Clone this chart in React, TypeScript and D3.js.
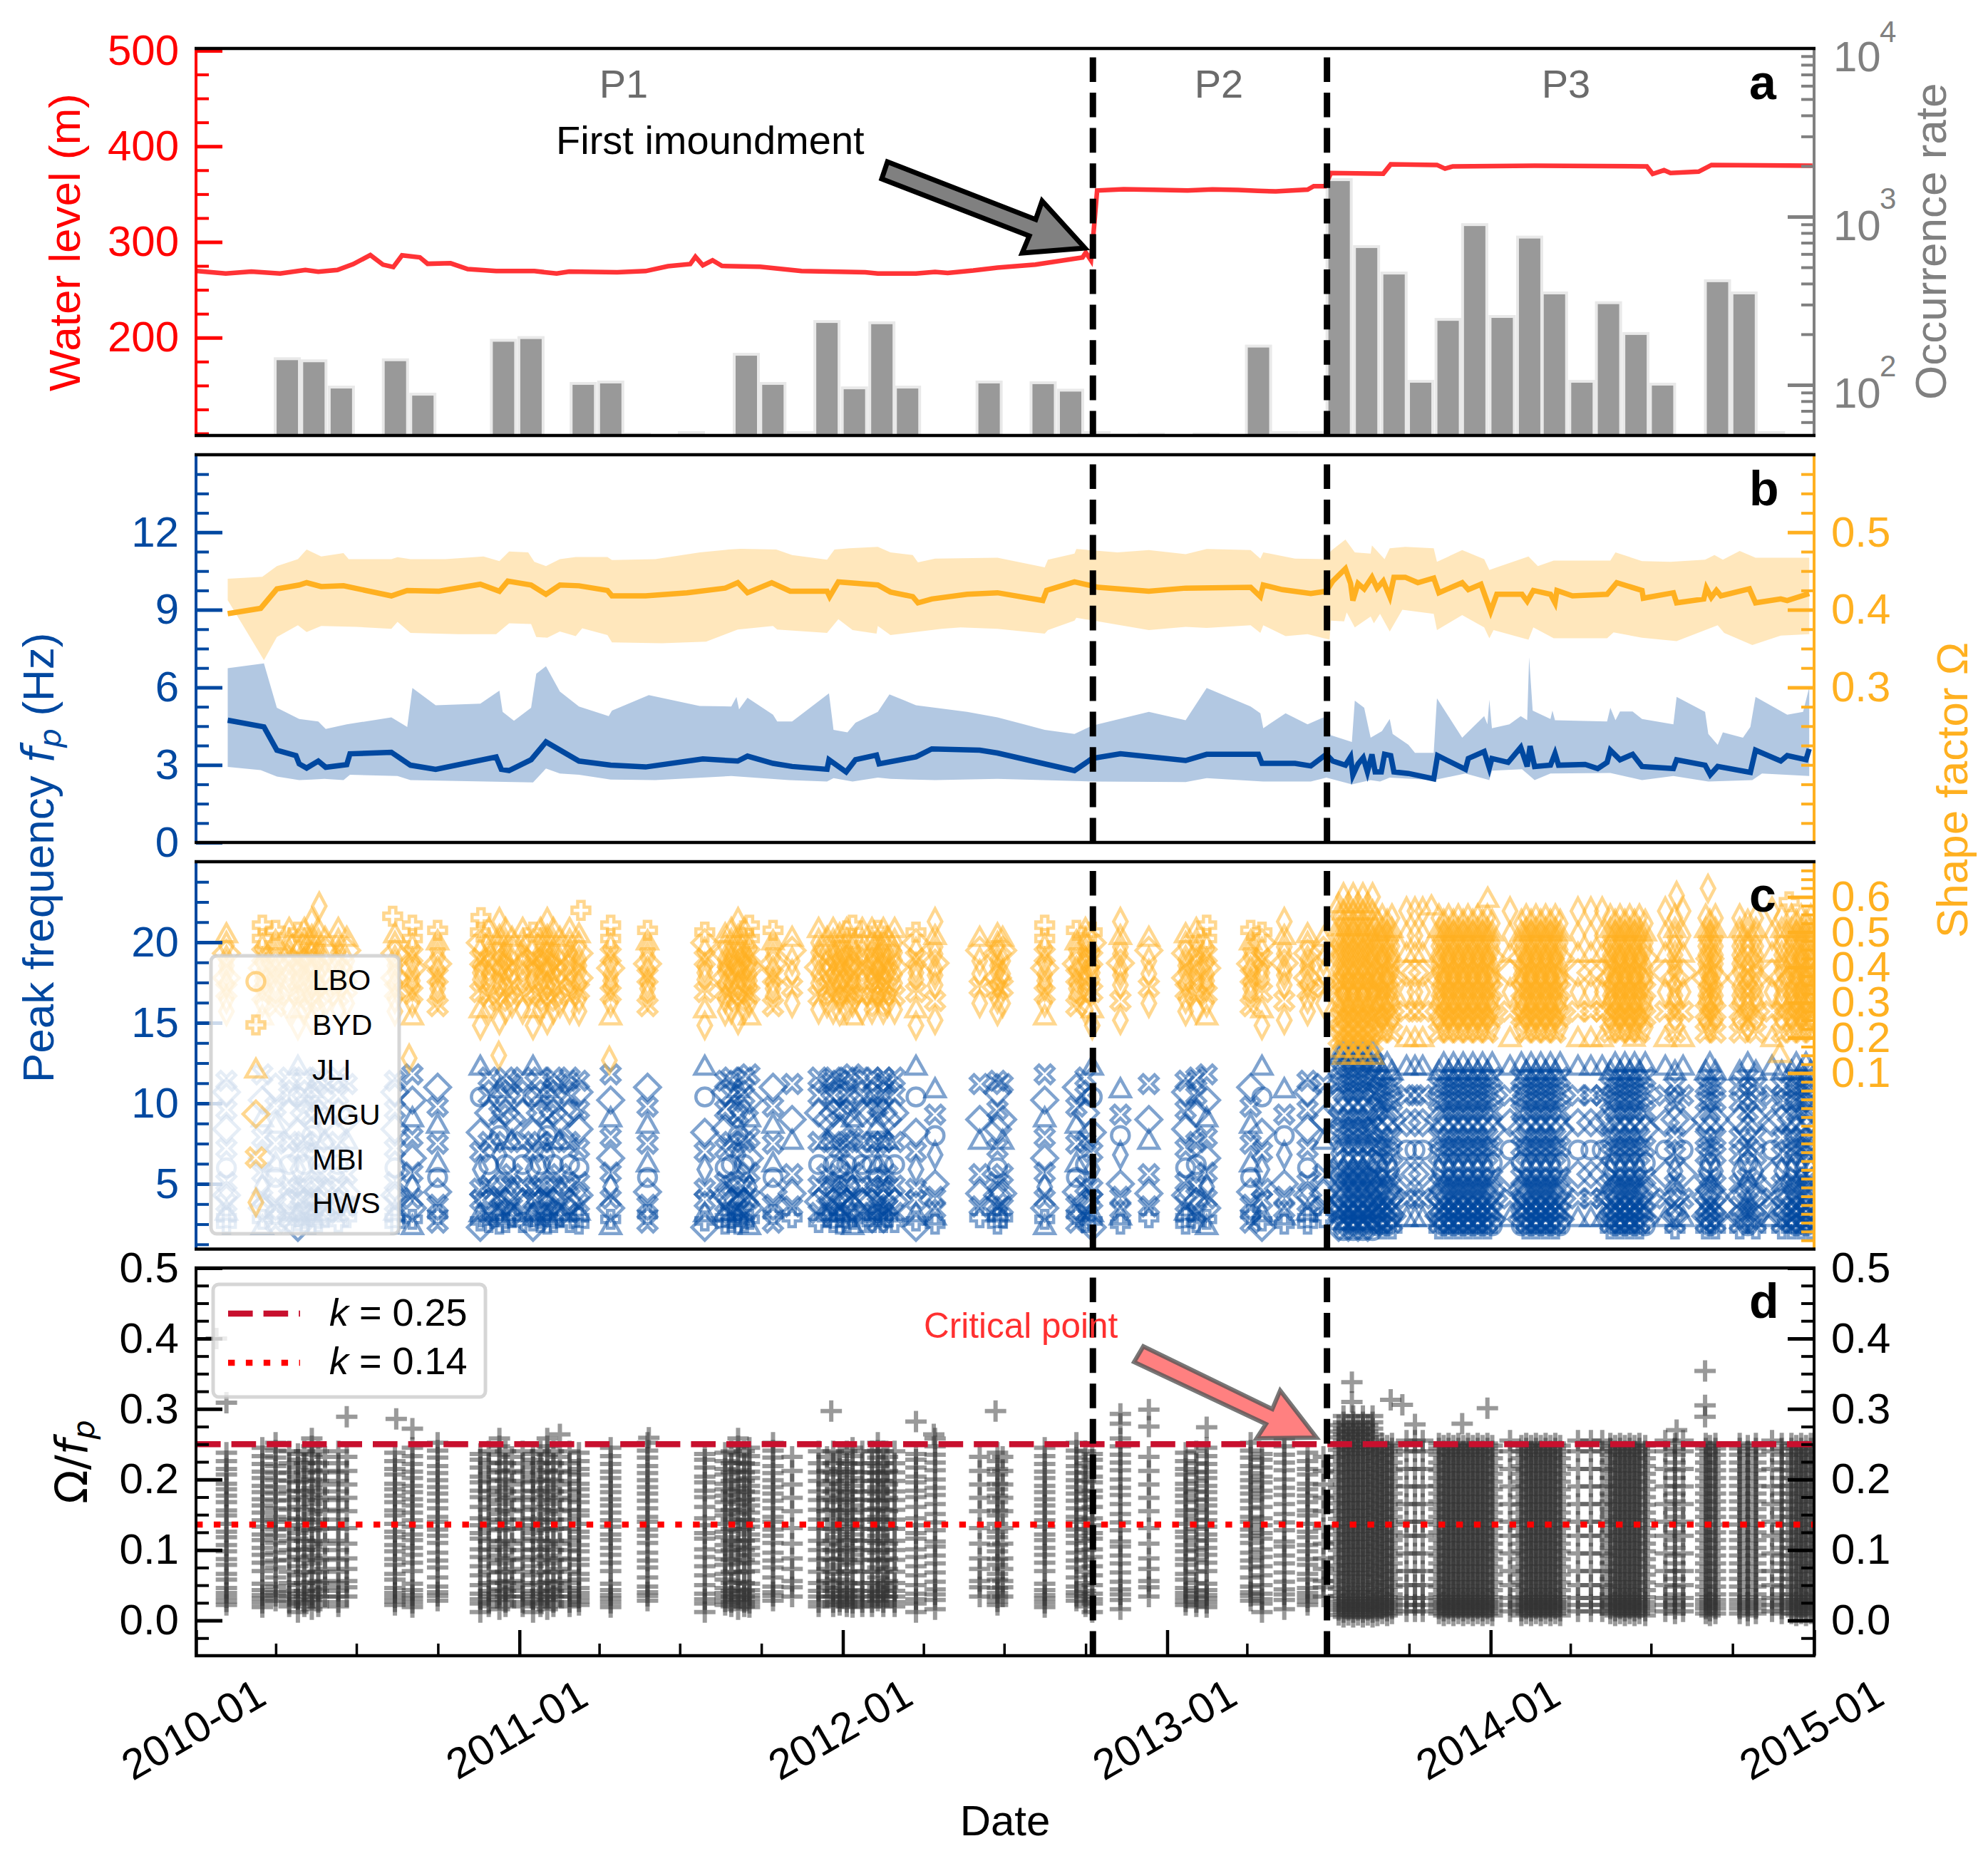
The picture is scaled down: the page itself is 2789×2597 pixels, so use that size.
import { useEffect, useRef } from "react";
import * as d3 from "d3";

type Pt = [number, number];

const RED = "#ff0000";
const GRAY = "#808080";
const BLUE = "#0048a0";
const ORANGE = "#ffb020";
const SANS = "'Liberation Sans', Arial, sans-serif";

// all dates below are years since 2010-01-01
const waterLevel: Pt[] = [
  [0.004, 269.6], [0.092, 267.1], [0.171, 269], [0.26, 267.1], [0.338, 270.8], [0.378, 269], [0.437, 270.8],
  [0.486, 276.9], [0.539, 286.3], [0.578, 276.3], [0.61, 273.8], [0.637, 286], [0.692, 283.9], [0.716, 277.2],
  [0.787, 277.8], [0.84, 271.7], [0.928, 269.6], [1.046, 269.6], [1.115, 267.1], [1.154, 269], [1.302, 268.4],
  [1.39, 269.6], [1.459, 274.7], [1.528, 276.9], [1.544, 284.5], [1.567, 275.7], [1.597, 280.8], [1.626, 275],
  [1.744, 274.1], [1.872, 269.6], [2.069, 268.4], [2.108, 267.1], [2.226, 267.1], [2.285, 268.7], [2.324, 267.7],
  [2.403, 270.2], [2.478, 273.2], [2.595, 276.3], [2.741, 283.8], [2.751, 289], [2.767, 280.8], [2.775, 309.7],
  [2.786, 353.8], [2.868, 355.1], [2.96, 354.6], [3.063, 353.8], [3.14, 355], [3.219, 354.3], [3.28, 353.4], [3.336, 352.9],
  [3.434, 354.7], [3.453, 358.3], [3.488, 358.3], [3.506, 372], [3.668, 371.4], [3.691, 381.1], [3.834, 380.5],
  [3.859, 376.6], [3.883, 379], [4.136, 379.6], [4.483, 379], [4.501, 371.1], [4.536, 375], [4.556, 372],
  [4.643, 373.5], [4.683, 380.5], [4.995, 379.6],
];

const barMonths = [3, 4, 5, 7, 8, 11, 12, 14, 15, 16, 18, 20, 21, 22, 23, 24, 25, 26, 29, 31, 32, 33, 34, 35, 37, 39, 40, 41, 42, 43, 44, 45, 46, 47, 48, 49, 50, 51, 52, 53, 54, 56, 57, 58];
const barRates = [143, 139, 97, 141, 88, 184, 191, 102, 104, 51, 52, 152, 102, 52, 238, 96, 234, 97, 104, 103, 93, 52, 50.5, 51, 51, 170, 52, 52, 1660, 664, 462, 105, 245, 897, 255, 756, 352, 105, 308, 202, 101, 416, 352, 52];

const blueLine: Pt[] = [
  [0.098, 4.73], [0.21, 4.47], [0.25, 3.57], [0.309, 3.36], [0.319, 3.04], [0.342, 2.88], [0.378, 3.15], [0.401, 2.91],
  [0.466, 3.01], [0.476, 3.43], [0.604, 3.49], [0.663, 2.99], [0.741, 2.83], [0.928, 3.31], [0.944, 2.83], [0.968, 2.78],
  [1.036, 3.2], [1.082, 3.89], [1.184, 3.15], [1.282, 2.99], [1.39, 2.92], [1.567, 3.23], [1.675, 3.15], [1.705, 3.34],
  [1.784, 3.06], [1.843, 2.94], [1.951, 2.83], [1.957, 3.2], [2.01, 2.73], [2.039, 3.2], [2.104, 3.38], [2.112, 3.04],
  [2.226, 3.31], [2.275, 3.62], [2.423, 3.57], [2.478, 3.46], [2.624, 3.04], [2.716, 2.78], [2.771, 3.25], [2.858, 3.43],
  [3.057, 3.17], [3.122, 3.41], [3.282, 3.41], [3.293, 3.06], [3.395, 3.06], [3.444, 2.96], [3.492, 3.41], [3.512, 3.15],
  [3.551, 2.99], [3.567, 3.31], [3.574, 2.6], [3.59, 3.04], [3.606, 3.28], [3.619, 2.73], [3.633, 3.41], [3.643, 2.73],
  [3.662, 2.73], [3.672, 3.41], [3.691, 3.36], [3.701, 2.73], [3.746, 2.67], [3.824, 2.46], [3.836, 3.36], [3.922, 2.83],
  [3.931, 3.25], [3.98, 3.52], [3.996, 2.88], [4.004, 3.25], [4.054, 3.1], [4.093, 3.68], [4.113, 2.94], [4.122, 3.73],
  [4.136, 2.94], [4.185, 2.99], [4.199, 3.44], [4.21, 2.99], [4.292, 3.02], [4.331, 2.86], [4.36, 3.1], [4.37, 3.57],
  [4.4, 3.2], [4.439, 3.41], [4.468, 2.94], [4.565, 2.86], [4.575, 3.2], [4.663, 2.99], [4.679, 2.62], [4.702, 2.94],
  [4.803, 2.71], [4.819, 3.57], [4.897, 3.15], [4.917, 3.36], [4.975, 3.2], [4.985, 3.62],
];
const blueUpper: Pt[] = [
  [0.098, 6.74], [0.21, 6.93], [0.25, 5.21], [0.319, 4.78], [0.378, 4.68], [0.401, 4.39], [0.466, 4.57], [0.604, 4.84],
  [0.653, 4.47], [0.669, 5.98], [0.741, 5.31], [0.879, 5.37], [0.938, 5.87], [0.948, 5.05], [0.983, 4.71], [1.036, 5.21],
  [1.052, 6.53], [1.082, 6.82], [1.125, 5.84], [1.184, 5.26], [1.276, 4.89], [1.286, 5.1], [1.4, 5.7], [1.557, 5.28],
  [1.655, 5.26], [1.671, 5.63], [1.679, 5.15], [1.705, 5.6], [1.784, 4.94], [1.797, 4.68], [1.843, 4.68], [1.957, 5.77],
  [1.971, 4.36], [2.014, 4.26], [2.039, 4.63], [2.108, 5.05], [2.144, 5.73], [2.226, 5.31], [2.384, 5.05], [2.478, 4.84],
  [2.624, 4.36], [2.716, 4.2], [2.771, 4.52], [2.946, 5.05], [3.057, 4.73], [3.122, 5.98], [3.258, 5.26], [3.288, 5],
  [3.297, 4.42], [3.366, 5], [3.434, 4.57], [3.483, 4.84], [3.506, 4.15], [3.571, 3.89], [3.58, 5.49], [3.609, 5.21],
  [3.629, 4.05], [3.664, 4.31], [3.688, 4.78], [3.697, 4.2], [3.746, 3.78], [3.766, 3.47], [3.824, 3.47], [3.834, 5.58],
  [3.912, 4.05], [3.98, 4.89], [3.99, 4.57], [3.996, 5.52], [4.004, 4.42], [4.058, 4.57], [4.093, 4.89], [4.113, 4.73],
  [4.119, 7.16], [4.13, 5.1], [4.185, 4.78], [4.191, 5.1], [4.199, 4.73], [4.36, 4.68], [4.37, 5.21], [4.386, 4.73],
  [4.4, 5.07], [4.439, 5.07], [4.468, 4.78], [4.565, 4.57], [4.575, 5.63], [4.663, 5.05], [4.673, 4.2], [4.702, 3.78],
  [4.718, 4.26], [4.78, 4.05], [4.803, 4.47], [4.819, 5.63], [4.917, 4.94], [4.966, 5.05], [4.985, 6],
];
const blueLower: Pt[] = [
  [0.098, 2.92], [0.2, 2.8], [0.25, 2.55], [0.319, 2.41], [0.358, 2.43], [0.397, 2.46], [0.456, 2.41], [0.476, 2.62],
  [0.623, 2.57], [0.663, 2.41], [1.042, 2.32], [1.082, 2.86], [1.125, 2.67], [1.184, 2.62], [1.282, 2.43], [1.42, 2.41],
  [1.655, 2.57], [1.833, 2.41], [1.951, 2.36], [1.971, 2.49], [2.03, 2.36], [2.108, 2.51], [2.147, 2.46], [2.285, 2.41],
  [2.478, 2.46], [2.771, 2.36], [3.057, 2.34], [3.122, 2.49], [3.297, 2.36], [3.444, 2.36], [3.492, 2.51], [3.571, 2.25],
  [3.629, 2.41], [3.658, 2.36], [3.688, 2.51], [3.824, 2.41], [3.922, 2.67], [3.996, 2.41], [4.004, 2.78], [4.097, 2.83],
  [4.136, 2.41], [4.185, 2.67], [4.37, 2.69], [4.468, 2.41], [4.565, 2.57], [4.673, 2.36], [4.809, 2.41], [4.839, 2.67],
  [4.985, 2.57],
];

const orangeLine: Pt[] = [
  [0.098, 0.395], [0.2, 0.402], [0.25, 0.427], [0.319, 0.432], [0.342, 0.435], [0.387, 0.43], [0.456, 0.431], [0.604, 0.418],
  [0.653, 0.425], [0.751, 0.424], [0.879, 0.433], [0.938, 0.424], [0.964, 0.437], [1.036, 0.432], [1.082, 0.42], [1.125, 0.432],
  [1.184, 0.431], [1.272, 0.425], [1.286, 0.418], [1.39, 0.418], [1.518, 0.422], [1.636, 0.428], [1.675, 0.435], [1.705, 0.422],
  [1.78, 0.435], [1.837, 0.424], [1.951, 0.424], [1.959, 0.417], [1.986, 0.436], [2.108, 0.432], [2.147, 0.423], [2.216, 0.417],
  [2.232, 0.409], [2.275, 0.414], [2.384, 0.42], [2.478, 0.422], [2.618, 0.412], [2.63, 0.425], [2.716, 0.436], [2.79, 0.429],
  [2.946, 0.424], [3.057, 0.428], [3.258, 0.429], [3.288, 0.417], [3.297, 0.432], [3.356, 0.426], [3.444, 0.421], [3.492, 0.424],
  [3.512, 0.437], [3.551, 0.453], [3.567, 0.434], [3.574, 0.412], [3.59, 0.434], [3.609, 0.427], [3.633, 0.442], [3.649, 0.428],
  [3.668, 0.437], [3.688, 0.417], [3.701, 0.442], [3.736, 0.442], [3.775, 0.435], [3.824, 0.441], [3.84, 0.422], [3.912, 0.435],
  [3.931, 0.426], [3.97, 0.433], [4, 0.398], [4.019, 0.42], [4.097, 0.42], [4.113, 0.411], [4.132, 0.425], [4.185, 0.42],
  [4.199, 0.409], [4.205, 0.425], [4.253, 0.418], [4.36, 0.42], [4.39, 0.435], [4.468, 0.425], [4.472, 0.415], [4.565, 0.422],
  [4.575, 0.409], [4.659, 0.414], [4.667, 0.428], [4.682, 0.416], [4.698, 0.425], [4.712, 0.418], [4.8, 0.427], [4.819, 0.409],
  [4.897, 0.414], [4.917, 0.412], [4.985, 0.421],
];
const orangeUpper: Pt[] = [
  [0.098, 0.44], [0.205, 0.4425], [0.25, 0.4565], [0.315, 0.4653], [0.342, 0.4777], [0.387, 0.4689], [0.456, 0.4731], [0.472, 0.4653],
  [0.604, 0.4653], [0.623, 0.4678], [0.663, 0.4653], [0.771, 0.4653], [0.889, 0.4689], [0.938, 0.4629], [0.968, 0.4752], [1.027, 0.4741],
  [1.046, 0.4618], [1.082, 0.4565], [1.125, 0.4653], [1.174, 0.4682], [1.272, 0.4682], [1.286, 0.4643], [1.42, 0.4653], [1.558, 0.4741],
  [1.646, 0.4777], [1.685, 0.4787], [1.794, 0.4777], [1.843, 0.4706], [1.951, 0.4646], [1.974, 0.4777], [2.02, 0.4794], [2.108, 0.4812],
  [2.147, 0.4741], [2.216, 0.4706], [2.232, 0.4611], [2.285, 0.466], [2.478, 0.4671], [2.624, 0.4548], [2.634, 0.4646], [2.716, 0.4724],
  [2.722, 0.4784], [2.849, 0.4741], [2.946, 0.477], [3.057, 0.4717], [3.122, 0.4784], [3.258, 0.477], [3.288, 0.466], [3.297, 0.4741],
  [3.395, 0.466], [3.492, 0.4653], [3.506, 0.4759], [3.551, 0.4907], [3.58, 0.4741], [3.629, 0.4724], [3.633, 0.483], [3.672, 0.4653],
  [3.688, 0.4794], [3.736, 0.4812], [3.824, 0.4794], [3.834, 0.4618], [3.912, 0.477], [3.98, 0.4653], [3.996, 0.4513], [4.019, 0.4548],
  [4.117, 0.4689], [4.146, 0.4565], [4.195, 0.4636], [4.37, 0.4636], [4.386, 0.4741], [4.468, 0.4629], [4.556, 0.4618], [4.663, 0.4646],
  [4.692, 0.4706], [4.718, 0.4646], [4.77, 0.4759], [4.819, 0.4671], [4.985, 0.4671],
];
const orangeLower: Pt[] = [
  [0.098, 0.4125], [0.21, 0.3351], [0.25, 0.365], [0.315, 0.3802], [0.342, 0.3714], [0.387, 0.3791], [0.496, 0.378], [0.604, 0.3756],
  [0.623, 0.3844], [0.663, 0.3703], [0.81, 0.3685], [0.928, 0.3685], [0.968, 0.3826], [1.036, 0.3816], [1.052, 0.365], [1.086, 0.364],
  [1.125, 0.3721], [1.174, 0.3661], [1.194, 0.3763], [1.272, 0.3675], [1.286, 0.358], [1.44, 0.3569], [1.577, 0.359], [1.675, 0.3745],
  [1.784, 0.3791], [1.797, 0.3745], [1.951, 0.3703], [1.986, 0.3879], [2.03, 0.3738], [2.104, 0.3692], [2.108, 0.3791], [2.147, 0.3675],
  [2.305, 0.3756], [2.364, 0.3773], [2.478, 0.3756], [2.624, 0.3692], [2.634, 0.3738], [2.716, 0.3861], [2.722, 0.3897], [2.849, 0.3809],
  [2.946, 0.3738], [3.057, 0.378], [3.122, 0.3766], [3.258, 0.3802], [3.288, 0.3703], [3.297, 0.3802], [3.366, 0.3661], [3.434, 0.3685],
  [3.502, 0.3615], [3.506, 0.3861], [3.547, 0.3851], [3.555, 0.3967], [3.58, 0.3773], [3.629, 0.3914], [3.639, 0.3826], [3.658, 0.3949],
  [3.688, 0.3721], [3.727, 0.4002], [3.824, 0.3949], [3.834, 0.3738], [3.912, 0.3932], [3.98, 0.3773], [3.996, 0.3633], [4.009, 0.3738],
  [4.117, 0.3615], [4.132, 0.3773], [4.195, 0.3633], [4.36, 0.3633], [4.38, 0.371], [4.468, 0.364], [4.575, 0.3597], [4.702, 0.3802],
  [4.722, 0.3703], [4.809, 0.3545], [4.897, 0.3668], [4.985, 0.3685],
];

// event columns shared by panels c and d
const sparseDates1 = [0.094, 0.615, 1.184, 1.636, 1.99, 2.478, 3.057, 3.434];
const sparseDates2 = [0.205, 0.669, 1.282, 1.711, 2.03, 2.624, 3.122];
const sparseDates3 = [0.246, 0.747, 1.396, 1.784, 2.108, 2.722, 3.258];
const sparseDates4 = [0.315, 0.879, 1.042, 1.573, 2.226, 2.771, 3.293];
const sparseDates5 = [0.358, 0.938, 1.086, 1.676, 2.285, 2.858, 3.362];
const sparseDates6 = [0.399, 0.466, 0.977, 1.125, 1.843, 1.951, 2.138, 2.423, 2.494, 2.946, 3.483];
const sparseDates7 = [0.288, 0.335, 0.378, 0.44, 0.905, 0.957, 1.01, 1.065, 1.105, 1.155, 1.655, 1.695, 1.925, 1.97, 2.012, 2.06, 2.09, 2.125, 2.16, 2.75, 3.09];
const denseDates1 = [3.545, 3.575, 3.605, 3.635];
const denseDates2 = [3.53, 3.56, 3.59, 3.62];
const denseDates3 = [3.665, 3.695, 3.84, 3.87, 3.9, 3.93, 3.96, 3.99, 4.11, 4.14, 4.17, 4.2, 4.37, 4.4, 4.43, 4.46, 4.57, 4.665, 4.695, 4.77, 4.82, 4.9, 4.93, 4.96, 4.99];
const denseDates4 = [3.65, 3.68, 3.855, 3.885, 3.915, 3.945, 3.975, 4.005, 4.095, 4.125, 4.155, 4.185, 4.215, 4.385, 4.415, 4.445, 4.478, 4.678, 4.795, 4.945, 4.975];
const denseDates5 = [3.74, 3.766, 3.79, 4.06, 4.27, 4.31, 4.345, 4.54, 4.595, 4.87];
const columnDates = [sparseDates1, sparseDates2, sparseDates3, sparseDates4, sparseDates5, sparseDates6, sparseDates7, denseDates1, denseDates2, denseDates3, denseDates4, denseDates5];

const ratioSparse1 = [0.022, 0.027, 0.033, 0.039, 0.046, 0.058, 0.066, 0.079, 0.087, 0.098, 0.107, 0.118, 0.126, 0.137, 0.149, 0.156, 0.168, 0.177, 0.186, 0.194, 0.207, 0.215, 0.226, 0.238];
const ratioSparse2 = [0.019, 0.025, 0.031, 0.036, 0.043, 0.052, 0.07, 0.082, 0.093, 0.103, 0.114, 0.122, 0.133, 0.142, 0.153, 0.163, 0.172, 0.182, 0.191, 0.202, 0.211, 0.222, 0.233, 0.245];
const ratioSparse3 = [0.028, 0.035, 0.04, 0.048, 0.061, 0.075, 0.085, 0.096, 0.11, 0.12, 0.129, 0.14, 0.147, 0.159, 0.17, 0.18, 0.189, 0.199, 0.209, 0.219, 0.231, 0.241, 0.252];
const ratioSparse4 = [0.012, 0.024, 0.03, 0.038, 0.05, 0.064, 0.077, 0.09, 0.101, 0.116, 0.124, 0.135, 0.145, 0.161, 0.175, 0.184, 0.196, 0.204, 0.217, 0.228, 0.236];
const ratioSparse5 = [0.016, 0.029, 0.037, 0.044, 0.055, 0.068, 0.081, 0.092, 0.105, 0.112, 0.128, 0.139, 0.151, 0.165, 0.178, 0.188, 0.2, 0.213, 0.224, 0.235, 0.247, 0.258];
const ratioSparse6 = [0.034, 0.047, 0.056, 0.073, 0.088, 0.109, 0.131, 0.155, 0.174, 0.193, 0.212, 0.232];
const ratioSparse7 = [0.02, 0.026, 0.034, 0.042, 0.053, 0.069, 0.086, 0.1, 0.113, 0.13, 0.143, 0.157, 0.171, 0.183, 0.198, 0.21, 0.223, 0.24];
const ratioDense1 = [0.005, 0.012, 0.018, 0.024, 0.031, 0.04, 0.05, 0.062, 0.072, 0.083, 0.094, 0.105, 0.116, 0.127, 0.138, 0.149, 0.16, 0.171, 0.182, 0.193, 0.204, 0.215, 0.226, 0.237, 0.246, 0.255, 0.264, 0.272, 0.281, 0.29];
const ratioDense2 = [0.008, 0.015, 0.021, 0.027, 0.035, 0.045, 0.056, 0.067, 0.078, 0.089, 0.1, 0.111, 0.122, 0.133, 0.144, 0.155, 0.166, 0.177, 0.188, 0.199, 0.21, 0.221, 0.232, 0.242, 0.25, 0.26, 0.268, 0.277];
const ratioDense3 = [0.01, 0.017, 0.023, 0.029, 0.037, 0.048, 0.059, 0.07, 0.081, 0.092, 0.103, 0.114, 0.125, 0.136, 0.147, 0.158, 0.169, 0.18, 0.191, 0.202, 0.213, 0.224, 0.235, 0.244, 0.251];
const ratioDense4 = [0.007, 0.014, 0.02, 0.026, 0.033, 0.043, 0.054, 0.065, 0.076, 0.087, 0.098, 0.109, 0.12, 0.131, 0.142, 0.153, 0.164, 0.175, 0.186, 0.197, 0.208, 0.219, 0.23, 0.24, 0.248];
const ratioDense5 = [0.013, 0.022, 0.032, 0.05, 0.07, 0.095, 0.12, 0.14, 0.165, 0.19, 0.215, 0.24, 0.255];
const ratioColumns = [ratioSparse1, ratioSparse2, ratioSparse3, ratioSparse4, ratioSparse5, ratioSparse6, ratioSparse7, ratioDense1, ratioDense2, ratioDense3, ratioDense4, ratioDense5];
const ratioOutliers: Pt[] = [
  [0.063, 0.4], [0.094, 0.309], [0.466, 0.289], [0.619, 0.286], [0.669, 0.272], [1.125, 0.264], [1.4, 0.259], [1.964, 0.297],
  [2.226, 0.282], [2.281, 0.264], [2.472, 0.297], [2.858, 0.293], [2.858, 0.279], [2.946, 0.299], [2.946, 0.275], [3.122, 0.274],
  [3.571, 0.338], [3.571, 0.31], [3.691, 0.313], [3.727, 0.306], [3.766, 0.278], [3.912, 0.279], [3.99, 0.301], [4.663, 0.354],
  [4.663, 0.305], [4.663, 0.289], [4.575, 0.27],
];

// o LBO, P BYD, ^ JLI, D MGU, X MBI, d HWS
const blueSparse1 = [2.5, 2.9, 3.3, 3.8, 4.3, 5.1, 6, 7.2, 8.4, 9.6, 10.7, 11.4];
const blueSparse2 = [2.4, 2.8, 3.5, 4.1, 4.8, 5.7, 6.6, 7.9, 9.1, 10.2, 11.8];
const blueSparse3 = [2.6, 3.1, 3.7, 4.5, 5.4, 6.3, 7.5, 8.7, 9.8, 11];
const blueSparse4 = [2.3, 2.7, 3.2, 4, 4.7, 5.9, 7, 8.2, 10.4, 12.3];
const blueSparse5 = [2.5, 3, 3.4, 4.2, 5, 6.8, 8, 9.3, 10.9];
const blueSparse6 = [2.9, 3.6, 4.4, 5.6, 7.7, 9, 11.2];
const blueSparse7 = [2.6, 3.2, 3.9, 4.9, 6.2, 7.6, 9.4, 10.5, 11.6];
const blueDense1 = [2.1, 2.5, 2.9, 3.4, 4, 4.7, 5.5, 6.4, 7.4, 8.5, 9.6, 10.7, 11.7, 12.6, 13.3];
const blueDense2 = [2.3, 2.7, 3.2, 3.7, 4.4, 5.1, 5.9, 6.9, 8, 9.1, 10.2, 11.2, 12.2, 13];
const blueDense3 = [2.2, 2.6, 3, 3.6, 4.2, 5, 5.8, 6.8, 7.9, 9, 10.1, 11.1, 12];
const blueDense4 = [2.4, 2.8, 3.3, 3.9, 4.6, 5.4, 6.3, 7.3, 8.4, 9.5, 10.6, 11.6, 12.5];
const blueDense5 = [2.9, 4.1, 5.6, 7.1, 8.8, 10.5, 12.3];
const blueColumns = [blueSparse1, blueSparse2, blueSparse3, blueSparse4, blueSparse5, blueSparse6, blueSparse7, blueDense1, blueDense2, blueDense3, blueDense4, blueDense5];
const blueStations = ["PP^XDXoXDXDX", "^PDXdXDX^DX", "XPXDo^X^XD", "DP^XXdXDo^", "P^XXDdoX^", "PXDX^DX", "PXDXoXDXX", "oXDXDXXDXXDXXX^", "D^XXDXXdXXDXX^", "PXDXDXdXXDXX^", "oDXXDXoXDXXX^", "^XDoDX^"];

const orangeSparse1 = [0.275, 0.31, 0.335, 0.352, 0.37, 0.388, 0.405, 0.422, 0.44, 0.462, 0.495];
const orangeSparse2 = [0.262, 0.3, 0.325, 0.345, 0.362, 0.38, 0.398, 0.415, 0.435, 0.455, 0.482, 0.52];
const orangeSparse3 = [0.29, 0.318, 0.34, 0.358, 0.375, 0.392, 0.41, 0.43, 0.45, 0.475, 0.505];
const orangeSparse4 = [0.235, 0.282, 0.33, 0.365, 0.385, 0.402, 0.425, 0.445, 0.47, 0.5];
const orangeSparse5 = [0.25, 0.305, 0.35, 0.378, 0.395, 0.412, 0.438, 0.458, 0.49, 0.53];
const orangeSparse6 = [0.298, 0.344, 0.382, 0.418, 0.448, 0.485];
const orangeSparse7 = [0.28, 0.32, 0.355, 0.38, 0.4, 0.42, 0.442, 0.47, 0.51];
const orangeDense1 = [0.15, 0.185, 0.21, 0.24, 0.265, 0.29, 0.315, 0.335, 0.36, 0.38, 0.405, 0.43, 0.45, 0.475, 0.5, 0.525, 0.56, 0.6];
const orangeDense2 = [0.17, 0.2, 0.23, 0.255, 0.28, 0.305, 0.325, 0.35, 0.37, 0.395, 0.42, 0.44, 0.465, 0.49, 0.515, 0.545, 0.58];
const orangeDense3 = [0.215, 0.25, 0.275, 0.3, 0.32, 0.345, 0.37, 0.39, 0.41, 0.435, 0.46, 0.485, 0.51, 0.54];
const orangeDense4 = [0.23, 0.26, 0.285, 0.31, 0.335, 0.355, 0.38, 0.4, 0.425, 0.45, 0.47, 0.5, 0.525];
const orangeDense5 = [0.2, 0.275, 0.33, 0.385, 0.44, 0.49, 0.56];
const orangeColumns = [orangeSparse1, orangeSparse2, orangeSparse3, orangeSparse4, orangeSparse5, orangeSparse6, orangeSparse7, orangeDense1, orangeDense2, orangeDense3, orangeDense4, orangeDense5];
const orangeStations = ["ddXdDdddDd^", "^dXdddDdXdPP", "XdddXdDdd^P", "d^XdddXdDP", "dXdddDdd^d", "dXddD^", "dXddDddd^", "^XXdXdddXddddddd^d", "^XdXddDddddddd^d^", "XdXdddDddddd^d", "dXddXdddDdd^d", "^XdD^dd"];

// single orange marks that stick out of the columns
const orangeExtraDates = [0.381, 0.608, 0.881, 1.19, 0.659, 0.936, 1.278, 3.817, 3.991, 4.575, 4.672, 4.923, 4.443, 4.894];
const orangeExtraValues = [0.574, 0.545, 0.541, 0.562, 0.142, 0.15, 0.136, 0.574, 0.596, 0.604, 0.624, 0.586, 0.201, 0.155];
const orangeExtraStations = "dPPPddd^^ddP^^";

const stationNames = ["LBO", "BYD", "JLI", "MGU", "MBI", "HWS"];
const stationCodes = ["o", "P", "^", "D", "X", "d"];
const markerPaths: Record<string, string> = {
  o: d3.symbol().type(d3.symbolCircle).size(490)() as string,
  P: "M-4.5,-12.5H4.5V-4.5H12.5V4.5H4.5V12.5H-4.5V4.5H-12.5V-4.5H-4.5Z",
  "^": "M0,-14L14,11H-14Z",
  D: "M0,-18L18,0L0,18L-18,0Z",
  X: "M-8,-13L0,-5L8,-13L13,-8L5,0L13,8L8,13L0,5L-8,13L-13,8L-5,0L-13,-8Z",
  d: "M0,-18L9.5,0L0,18L-9.5,0Z",
};

const toDate = (t: number) => {
  const year = 2010 + Math.floor(t);
  return new Date(new Date(year, 0, 1).getTime() + (t - Math.floor(t)) * 365 * 864e5);
};

export default function App() {
  const svgRef = useRef<SVGSVGElement>(null);

  useEffect(() => {
    if (!svgRef.current) return;
    document.body.style.margin = "0";
    const svg = d3.select(svgRef.current);
    svg.selectAll("*").remove();
    svg.attr("font-family", SANS);

    const left = 275;
    const right = 2545;
    const x = d3.scaleTime().domain([new Date(2010, 0, 1), new Date(2015, 0, 1)]).range([left, right]);
    const px = (t: number) => x(toDate(t));

    const panels = { a: [68, 611], b: [638, 1182], c: [1209, 1752.6], d: [1779, 2323] };

    const defs = svg.append("defs");
    Object.entries(panels).forEach(([k, [top, bottom]]) => {
      defs.append("clipPath").attr("id", `clip-${k}`).append("rect")
        .attr("x", left).attr("y", top).attr("width", right - left).attr("height", bottom - top);
    });

    const yWater = d3.scaleLinear().domain([97.8, 502.2]).range([611, 68]);
    const yRate = d3.scaleLog().domain([50, 10000]).range([611, 68]);
    const yFreq = d3.scaleLinear().domain([0, 15]).range([1182, 638]);
    const yShape = d3.scaleLinear().domain([0.1, 0.6]).range([1182, 638]);
    const yPeak = d3.scaleLinear().domain([0.95, 25]).range([1752.6, 1209]);
    const yShape2 = d3.scaleLinear().domain([-0.4, 0.7]).range([1752.6, 1209]);
    const yRatio = d3.scaleLinear().domain([-0.05, 0.5]).range([2323, 1779]);

    const layer = (k: string) => svg.append("g").attr("clip-path", `url(#clip-${k})`);

    // panel a
    const ga = layer("a");
    ga.selectAll("rect").data(barMonths).enter().append("rect")
      .attr("x", (m) => x(new Date(2010, m, 14)) - 17)
      .attr("y", (_, i) => yRate(barRates[i]))
      .attr("width", 34)
      .attr("height", (_, i) => 611 - yRate(barRates[i]))
      .attr("fill", "#999999")
      .attr("stroke", "#e9e9e9")
      .attr("stroke-width", 4);
    ga.append("path").datum(waterLevel)
      .attr("d", d3.line<Pt>().x((d) => px(d[0])).y((d) => yWater(d[1])))
      .attr("fill", "none").attr("stroke", "#ff3336").attr("stroke-width", 6.5);

    // panel b
    const gb = layer("b");
    const band = (upper: Pt[], lower: Pt[], y: d3.ScaleLinear<number, number>) =>
      d3.line<Pt>().x((d) => px(d[0])).y((d) => y(d[1]))([...upper, ...[...lower].reverse()]) + "Z";
    gb.append("path").attr("d", band(blueUpper, blueLower, yFreq)).attr("fill", BLUE).attr("fill-opacity", 0.3);
    gb.append("path").attr("d", band(orangeUpper, orangeLower, yShape)).attr("fill", ORANGE).attr("fill-opacity", 0.3);
    gb.append("path").datum(blueLine)
      .attr("d", d3.line<Pt>().x((d) => px(d[0])).y((d) => yFreq(d[1])))
      .attr("fill", "none").attr("stroke", BLUE).attr("stroke-width", 7.5);
    gb.append("path").datum(orangeLine)
      .attr("d", d3.line<Pt>().x((d) => px(d[0])).y((d) => yShape(d[1])))
      .attr("fill", "none").attr("stroke", ORANGE).attr("stroke-width", 7.5);

    // panel c: hollow station markers, one column per event date
    const gc = layer("c");
    const marker = (
      g: d3.Selection<SVGGElement, unknown, null, undefined>,
      code: string, t: number, yy: number, color: string,
    ) => {
      g.append("path")
        .attr("d", markerPaths[code])
        .attr("transform", `translate(${px(t)},${yy})`)
        .attr("fill", "none")
        .attr("stroke", color)
        .attr("stroke-opacity", 0.5)
        .attr("stroke-width", 4.5);
    };
    const scatter = (values: number[][], stations: string[], y: d3.ScaleLinear<number, number>, color: string) => {
      columnDates.forEach((dates, s) => {
        dates.forEach((t) => {
          values[s].forEach((v, j) => marker(gc, stations[s][j % stations[s].length], t, y(v), color));
        });
      });
    };
    scatter(blueColumns, blueStations, yPeak, BLUE);
    scatter(orangeColumns, orangeStations, yShape2, ORANGE);
    orangeExtraDates.forEach((t, i) => marker(gc, orangeExtraStations[i], t, yShape2(orangeExtraValues[i]), ORANGE));

    // panel d
    const gd = layer("d");
    const plus = "M-15,0H15M0,-15V15";
    const cross = (t: number, v: number) => {
      gd.append("path").attr("d", plus)
        .attr("transform", `translate(${px(t)},${yRatio(v)})`)
        .attr("stroke", "#333333").attr("stroke-opacity", 0.5).attr("stroke-width", 6).attr("fill", "none");
    };
    columnDates.forEach((dates, s) => {
      dates.forEach((t) => ratioColumns[s].forEach((v) => cross(t, v)));
    });
    ratioOutliers.forEach(([t, v]) => cross(t, v));
    gd.append("line").attr("x1", left).attr("x2", right).attr("y1", yRatio(0.25)).attr("y2", yRatio(0.25))
      .attr("stroke", "#c8102e").attr("stroke-width", 8.5).attr("stroke-dasharray", "34.6,15");
    gd.append("line").attr("x1", left).attr("x2", right).attr("y1", yRatio(0.136)).attr("y2", yRatio(0.136))
      .attr("stroke", RED).attr("stroke-width", 8.5).attr("stroke-dasharray", "9.4,15.5");

    // period boundaries, dashes start from the bottom of each axes
    const boundaries = [2.773, 3.494];
    Object.entries(panels).forEach(([k, [top, bottom]]) => {
      const g = svg.append("g").attr("clip-path", `url(#clip-${k})`);
      boundaries.forEach((t) => {
        g.append("line").attr("x1", px(t)).attr("x2", px(t)).attr("y1", bottom).attr("y2", top)
          .attr("stroke", "#000").attr("stroke-width", 9).attr("stroke-dasharray", "34.6,15");
      });
    });

    // axes
    const yAxis = (
      top: number, bottom: number, scale: any, side: "left" | "right",
      majors: number[], minors: number[], color: string, fmt: (d: number) => string,
    ) => {
      const make = side === "left" ? d3.axisLeft : d3.axisRight;
      const gx = side === "left" ? left : right;
      const minor = svg.append("g").attr("transform", `translate(${gx},0)`)
        .call(make(scale).tickValues(minors).tickSize(-18).tickFormat(() => ""));
      const major = svg.append("g").attr("transform", `translate(${gx},0)`)
        .call(make(scale).tickValues(majors).tickSize(-37).tickPadding(24).tickFormat(fmt as any));
      [minor, major].forEach((g) => {
        g.select(".domain").remove();
        g.selectAll(".tick line").attr("stroke", color);
        g.selectAll(".tick text").attr("fill", color).attr("font-size", 60).attr("font-family", SANS);
      });
      minor.selectAll(".tick line").attr("stroke-width", 4);
      major.selectAll(".tick line").attr("stroke-width", 5);
      svg.append("line").attr("x1", gx).attr("x2", gx).attr("y1", top).attr("y2", bottom)
        .attr("stroke", color).attr("stroke-width", 4);
    };
    const steps = (from: number, to: number, step: number, skip: number[]) =>
      d3.range(from, to + step / 2, step).filter((v) => !skip.some((s) => Math.abs(s - v) < 1e-6));

    const fmt0 = (d: number) => `${d}`;
    const fmt1 = (d: number) => d.toFixed(1);
    yAxis(68, 611, yWater, "left", [200, 300, 400, 500], steps(100, 500, 25, [200, 300, 400, 500]), RED, fmt0);
    yAxis(638, 1182, yFreq, "left", [0, 3, 6, 9, 12], steps(0.75, 14.25, 0.75, [3, 6, 9, 12]), BLUE, fmt0);
    yAxis(638, 1182, yShape, "right", [0.3, 0.4, 0.5], steps(0.125, 0.575, 0.025, [0.3, 0.4, 0.5]), ORANGE, fmt1);
    yAxis(1209, 1752.6, yPeak, "left", [5, 10, 15, 20], steps(1.25, 23.75, 1.25, [5, 10, 15, 20]), BLUE, fmt0);
    yAxis(1209, 1752.6, yShape2, "right", [0.1, 0.2, 0.3, 0.4, 0.5, 0.6], steps(-0.375, 0.675, 0.025, [0.1, 0.2, 0.3, 0.4, 0.5, 0.6]), ORANGE, fmt1);
    yAxis(1779, 2323, yRatio, "left", [0, 0.1, 0.2, 0.3, 0.4, 0.5], steps(-0.025, 0.475, 0.025, [0, 0.1, 0.2, 0.3, 0.4]), "#000", fmt1);
    yAxis(1779, 2323, yRatio, "right", [0, 0.1, 0.2, 0.3, 0.4, 0.5], steps(-0.025, 0.475, 0.025, [0, 0.1, 0.2, 0.3, 0.4]), "#000", fmt1);

    const rateMinors = [60, 70, 80, 90, 200, 300, 400, 500, 600, 700, 800, 900, 2000, 3000, 4000, 5000, 6000, 7000, 8000, 9000];
    yAxis(68, 611, yRate, "right", [100, 1000], rateMinors, GRAY, () => "");
    [[2, 572, 528], [3, 337, 293], [4, 100, 59]].forEach(([e, base, sup]) => {
      svg.append("text").attr("x", 2572).attr("y", base).attr("fill", GRAY).attr("font-size", 60).text("10");
      svg.append("text").attr("x", 2637).attr("y", sup).attr("fill", GRAY).attr("font-size", 42).text(e);
    });

    // top and bottom spines
    Object.values(panels).forEach(([top, bottom]) => {
      [top, bottom].forEach((yy) => {
        svg.append("line").attr("x1", left - 2).attr("x2", right + 2).attr("y1", yy).attr("y2", yy)
          .attr("stroke", "#000").attr("stroke-width", 4.5);
      });
    });

    // date axis, only on the bottom panel
    const xMinor = d3.timeMonth.range(new Date(2010, 0, 1), new Date(2015, 0, 2), 3).filter((d) => d.getMonth() !== 0);
    const xMajor = d3.timeYear.range(new Date(2010, 0, 1), new Date(2015, 0, 2));
    svg.append("g").attr("transform", "translate(0,2323)")
      .call(d3.axisBottom(x).tickValues(xMinor).tickSize(-17).tickFormat(() => ""))
      .call((g) => g.select(".domain").remove())
      .call((g) => g.selectAll(".tick line").attr("stroke", "#000").attr("stroke-width", 3.5));
    svg.append("g").attr("transform", "translate(0,2323)")
      .call(d3.axisBottom(x).tickValues(xMajor).tickSize(-36).tickFormat(() => ""))
      .call((g) => g.select(".domain").remove())
      .call((g) => g.selectAll(".tick line").attr("stroke", "#000").attr("stroke-width", 4.5));
    const dateFmt = d3.timeFormat("%Y-%m");
    xMajor.forEach((d) => {
      svg.append("text")
        .attr("transform", `translate(${x(d) - 4},2426) rotate(-30)`)
        .attr("text-anchor", "middle").attr("dy", "0.35em")
        .attr("font-size", 60).attr("fill", "#000").text(dateFmt(d));
    });

    // axis titles
    const rotated = (tx: number, ty: number, color: string, anchor = "start") =>
      svg.append("text").attr("transform", `translate(${tx},${ty}) rotate(-90)`)
        .attr("fill", color).attr("font-size", 62).attr("text-anchor", anchor);
    rotated(112, 549, RED).text("Water level (m)");
    rotated(2730, 561, GRAY).text("Occurrence rate");
    rotated(2760, 1316, ORANGE).text("Shape factor Ω");
    const peak = rotated(75, 1519, BLUE);
    peak.append("tspan").text("Peak frequency ");
    peak.append("tspan").attr("font-family", "'DejaVu Sans'").attr("font-style", "italic").text("f");
    peak.append("tspan").attr("font-family", "'DejaVu Sans'").attr("font-style", "italic").attr("font-size", 43).attr("dy", 10).text("p");
    peak.append("tspan").attr("dy", -10).text(" (Hz)");
    const ratioTitle = rotated(122, 2051, "#000", "middle");
    ratioTitle.append("tspan").attr("font-family", "'DejaVu Sans'").text("Ω/");
    ratioTitle.append("tspan").attr("font-family", "'DejaVu Sans'").attr("font-style", "italic").text("f");
    ratioTitle.append("tspan").attr("font-family", "'DejaVu Sans'").attr("font-style", "italic").attr("font-size", 43).attr("dy", 10).text("p");
    svg.append("text").attr("x", 1410).attr("y", 2575).attr("text-anchor", "middle").attr("font-size", 60).text("Date");

    // panel letters
    [["a", 139], ["b", 709], ["c", 1279], ["d", 1849]].forEach(([s, yy]) => {
      svg.append("text").attr("x", 2454).attr("y", yy).attr("font-size", 68).attr("font-weight", "bold").text(s);
    });
    [["P1", 875], ["P2", 1710], ["P3", 2197]].forEach(([s, xx]) => {
      svg.append("text").attr("x", xx).attr("y", 137).attr("text-anchor", "middle")
        .attr("font-size", 56).attr("fill", "#6b6b6b").text(s);
    });

    // annotations
    svg.append("text").attr("x", 780).attr("y", 216).attr("font-size", 56).attr("fill", "#000").text("First imoundment");
    svg.append("path")
      .attr("d", "M1245,227L1453,308L1462,282L1522,348L1434,355L1444,331L1237,251Z")
      .attr("fill", GRAY).attr("stroke", "#000").attr("stroke-width", 7).attr("stroke-linejoin", "miter");
    svg.append("text").attr("x", 1296).attr("y", 1877).attr("font-size", 49.5).attr("fill", "#ff3030").text("Critical point");
    svg.append("path")
      .attr("d", "M1604,1889L1785,1977L1796,1951L1847,2017L1763,2018L1776,1998L1591,1911Z")
      .attr("fill", "#ff8080").attr("stroke", "#555").attr("stroke-opacity", 0.8).attr("stroke-width", 6);

    // legend of panel c
    svg.append("rect").attr("x", 296).attr("y", 1341).attr("width", 264).attr("height", 390).attr("rx", 8)
      .attr("fill", "#fff").attr("fill-opacity", 0.8).attr("stroke", "#cccccc").attr("stroke-opacity", 0.8).attr("stroke-width", 5);
    const legendMarkerY = [1377, 1438, 1500, 1563, 1624, 1687];
    const legendTextY = [1389, 1452, 1515, 1578, 1641, 1702];
    stationNames.forEach((name, i) => {
      svg.append("path").attr("d", markerPaths[stationCodes[i]])
        .attr("transform", `translate(359,${legendMarkerY[i]})`)
        .attr("fill", "none").attr("stroke", ORANGE).attr("stroke-opacity", 0.5).attr("stroke-width", 4.5);
      svg.append("text").attr("x", 438).attr("y", legendTextY[i]).attr("font-size", 41).attr("fill", "#000").text(name);
    });

    // legend of panel d
    svg.append("rect").attr("x", 299).attr("y", 1802).attr("width", 382).attr("height", 158).attr("rx", 8)
      .attr("fill", "#fff").attr("fill-opacity", 0.8).attr("stroke", "#cccccc").attr("stroke-opacity", 0.8).attr("stroke-width", 5);
    [["0.25", 1843, "#c8102e", "34.6,15", 1860], ["0.14", 1912, RED, "9.4,15.5", 1928]].forEach(([k, ly, color, dash, ty]) => {
      svg.append("line").attr("x1", 320).attr("x2", 421).attr("y1", ly).attr("y2", ly)
        .attr("stroke", color).attr("stroke-width", 8.5).attr("stroke-dasharray", dash);
      const t = svg.append("text").attr("x", 462).attr("y", ty).attr("font-size", 54).attr("fill", "#000");
      t.append("tspan").attr("font-style", "italic").text("k");
      t.append("tspan").text(` = ${k}`);
    });
  }, []);

  return <svg ref={svgRef} width={2789} height={2597} style={{ display: "block" }} />;
}
